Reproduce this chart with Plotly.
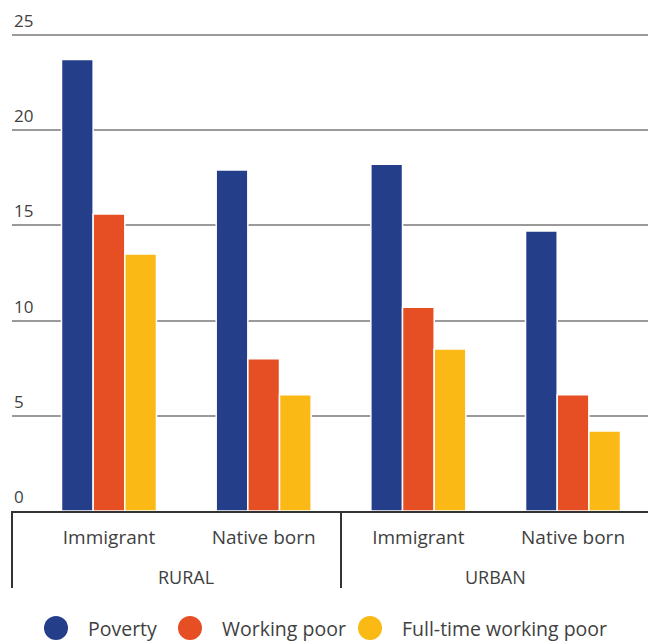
import plotly.graph_objects as go

groups = ["RURAL", "URBAN"]
subgroups = ["Immigrant", "Native born", "Immigrant", "Native born"]
group_of = ["RURAL", "RURAL", "URBAN", "URBAN"]
series_names = ["Poverty", "Working poor", "Full-time working poor"]
poverty = [23.7, 17.9, 18.2, 14.7]
working_poor = [15.6, 8.0, 10.7, 6.1]
fulltime_working_poor = [13.5, 6.1, 8.5, 4.2]
y_ticks = [0, 5, 10, 15, 20, 25]

colors = ["#243e8a", "#e64f24", "#fbb916"]
values = [poverty, working_poor, fulltime_working_poor]
FONT = "Open Sans"
TXT = "#3f3f3f"

x_pos = list(range(len(subgroups)))

fig = go.Figure()
for name, vals, col in zip(series_names, values, colors):
    fig.add_trace(go.Bar(
        x=x_pos, y=vals, name=name,
        marker=dict(color=col, line=dict(color="white", width=1.5)),
        showlegend=False,
    ))

W, H = 656, 641
OFF = 8  # page offset of the figure inside the browser window
# target plot area in window pixels
left_px, right_px, base_px = 12, 653, 511
y_top = 26.2
unit = 19.04
top_px = base_px - y_top * unit

ml = left_px - OFF
mr = W - (right_px - OFF)
mt = top_px - OFF
mb = H - (base_px - OFF)
pw = W - ml - mr
ph = H - mt - mb

def py(pix):
    return (base_px - pix) / ph

def px(pix):
    return (pix - left_px) / pw

shapes = []
annotations = []
# y tick labels above the gridlines
for t in y_ticks:
    annotations.append(dict(x=0, xref="paper", y=t, yref="y", text=str(t),
                            showarrow=False, xanchor="left", yanchor="bottom",
                            yshift=1, font=dict(family=FONT, size=17, color=TXT)))
# group dividers below the axis
div_bottom = py(588)
for xr, xv in [("paper", 0), ("x", 1.5), ("paper", 1)]:
    shapes.append(dict(type="line", xref=xr, yref="paper", x0=xv, x1=xv,
                       y0=0, y1=div_bottom, line=dict(color="#333333", width=2)))
# group labels
for g in groups:
    idx = [k for k, gg in enumerate(group_of) if gg == g]
    annotations.append(dict(x=sum(idx) / len(idx), xref="x", y=py(577), yref="paper",
                            text=g, showarrow=False, xanchor="center", yanchor="middle",
                            font=dict(family=FONT, size=18, color=TXT)))
# legend (manual, round markers)
leg_cx = [56, 190, 370]
leg_cy = py(628)
for name, col, cx in zip(series_names, colors, leg_cx):
    shapes.append(dict(type="circle", xref="paper", yref="paper",
                       xsizemode="pixel", ysizemode="pixel",
                       xanchor=px(cx), yanchor=leg_cy,
                       x0=-12, x1=12, y0=-12, y1=12,
                       fillcolor=col, line=dict(color=col, width=0)))
    annotations.append(dict(x=px(cx + 30), xref="paper", y=leg_cy, yref="paper",
                            text=name, showarrow=False, xanchor="left", yanchor="middle",
                            font=dict(family=FONT, size=19.5, color=TXT)))

fig.update_layout(
    width=W, height=H,
    margin=dict(l=ml, r=mr, t=mt, b=mb, pad=0),
    paper_bgcolor="white", plot_bgcolor="white",
    barmode="group", bargap=0.386, bargroupgap=0,
    font=dict(family=FONT, color=TXT),
    shapes=shapes, annotations=annotations,
    xaxis=dict(range=[-0.627, 3.517], tickvals=x_pos, ticktext=subgroups,
               tickfont=dict(family=FONT, size=19, color=TXT),
               showgrid=False, zeroline=False, showline=True,
               linecolor="#333333", linewidth=2, ticks="", ticklabelstandoff=8),
    yaxis=dict(range=[0, y_top], tickvals=y_ticks, showticklabels=False,
               showgrid=True, gridcolor="#9a9a9a", gridwidth=2,
               zeroline=False, showline=False, ticks=""),
)

fig.write_html("out.html")
